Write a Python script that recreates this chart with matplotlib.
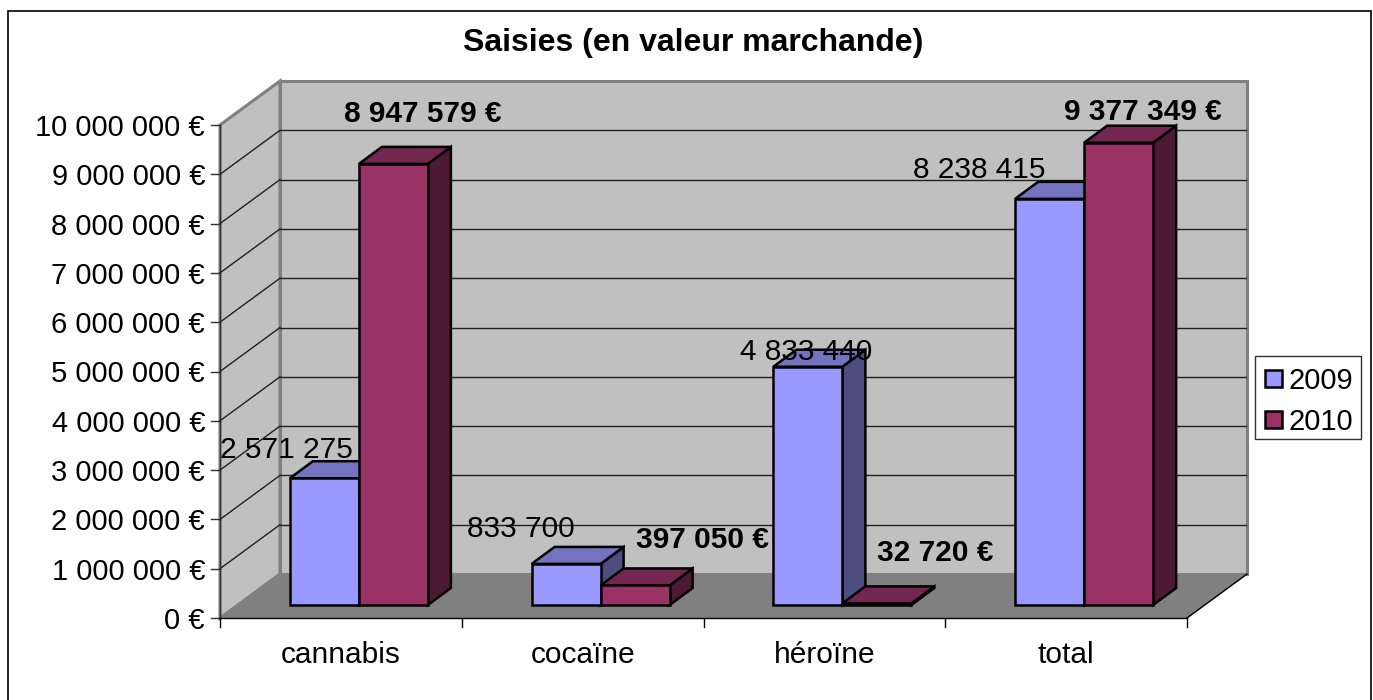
import matplotlib
matplotlib.use("Agg")
import matplotlib.pyplot as plt
from matplotlib.patches import Polygon, Rectangle

plt.rcParams['font.family'] = ['Liberation Sans', 'DejaVu Sans']

categories = ['cannabis', 'cocaïne', 'héroïne', 'total']
values_2009 = [2571275, 833700, 4833440, 8238415]
values_2010 = [8947579, 397050, 32720, 9377349]
labels_2009 = ['2 571 275', '833 700', '4 833 440', '8 238 415']
labels_2010 = ['8 947 579 €', '397 050 €', '32 720 €', '9 377 349 €']
y_ticks = [0, 1000000, 2000000, 3000000, 4000000, 5000000, 6000000, 7000000, 8000000, 9000000, 10000000]
title = 'Saisies (en valeur marchande)'

W, H = 1373, 700
# front plane of the 3d box, in pixels
LEFT, RIGHT, TOP, BOTTOM = 220, 1187, 125, 618
# depth of the box and of the bars, in pixels
WALL_DX, WALL_DY = 60, 44
BAR_DX, BAR_DY = 23, 17
SHIFT_DX, SHIFT_DY = 18, 13
BAR_W = 69 / 241.75
FS = 21.5

fig = plt.figure(figsize=(W / 100, H / 100), dpi=100)
ax = fig.add_axes([LEFT / W, 1 - BOTTOM / H, (RIGHT - LEFT) / W, (BOTTOM - TOP) / H])
ax.set_xlim(0, 4)
ax.set_ylim(0, 10000000)
ax.axis('off')

px_x = 4 / (RIGHT - LEFT)
px_y = 10000000 / (BOTTOM - TOP)


def poly(points, color, edge='black', lw=1.0, z=1):
    ax.add_patch(Polygon(points, closed=True, facecolor=color, edgecolor=edge, lw=lw,
                         zorder=z, clip_on=False, joinstyle='miter'))


wx = WALL_DX * px_x
wy = WALL_DY * px_y
ymax = y_ticks[-1]

# chart border, bottom edge falls off the picture
fig.add_artist(Rectangle((7.5 / W, -10 / H), 1363 / W, (689 + 10) / H, transform=fig.transFigure,
                         facecolor='white', edgecolor='black', lw=1.2, zorder=-5))

# walls and floor
poly([(wx, wy), (4 + wx, wy), (4 + wx, ymax + wy), (wx, ymax + wy)], '#c0c0c0', '#808080', 2.2, 1)
poly([(0, 0), (wx, wy), (wx, ymax + wy), (0, ymax)], '#c0c0c0', '#808080', 2.2, 1)
poly([(0, 0), (4, 0), (4 + wx, wy), (wx, wy)], '#808080', '#808080', 0.8, 1.5)

# gridlines on both walls
for t in y_ticks[1:-1]:
    ax.plot([wx, 4 + wx - 0.006], [t + wy, t + wy], color='#202020', lw=1.0, zorder=1.2, clip_on=False)
    ax.plot([0, wx], [t, t + wy], color='#202020', lw=1.0, zorder=1.2, clip_on=False)
ax.plot([4, 4 + wx], [0, wy], color='black', lw=1.0, zorder=1.6, clip_on=False)

# axes lines and ticks
ax.plot([0, 0], [0, ymax], color='#303030', lw=1.0, zorder=1.7, clip_on=False)
ax.plot([0, 4], [0, 0], color='black', lw=1.0, zorder=1.7, clip_on=False)
for t in y_ticks:
    ax.plot([-9 * px_x, 0], [t, t], color='#303030', lw=1.0, zorder=1.7, clip_on=False)
    ax.text(-15 * px_x, t, f'{t:,}'.replace(',', ' ') + ' €', ha='right', va='center_baseline',
            fontsize=21, color='black')
for i in range(5):
    ax.plot([i, i], [0, -9 * px_y], color='black', lw=1.0, zorder=1.7, clip_on=False)
for i, c in enumerate(categories):
    ax.text(i + 0.5, -34 * px_y, c, ha='center', va='center_baseline', fontsize=FS, color='black')


def bar(x, v, front, top, side, z):
    sy = SHIFT_DY * px_y
    dx = BAR_DX * px_x
    dy = BAR_DY * px_y
    x0 = x + SHIFT_DX * px_x
    x1 = x0 + BAR_W
    poly([(x1, sy), (x1 + dx, sy + dy), (x1 + dx, v + sy + dy), (x1, v + sy)], side, lw=1.8, z=z)
    poly([(x0, v + sy), (x1, v + sy), (x1 + dx, v + sy + dy), (x0 + dx, v + sy + dy)], top, lw=1.8, z=z)
    poly([(x0, sy), (x1, sy), (x1, v + sy), (x0, v + sy)], front, lw=1.8, z=z + 0.1)


for i in range(4):
    start = i + 0.5 - BAR_W
    bar(start, values_2009[i], '#9999ff', '#7373bf', '#4d4d80', 2 + i)
    bar(start + BAR_W, values_2010[i], '#993366', '#732650', '#4d1a33', 2.5 + i)

# data labels, pixel offsets from the category centre and the bar top
offs_2009 = [(-54, 31), (-62, 38), (-18, 18), (-87, 32)]
offs_2010 = [(82, 53), (120, 48), (111, 53), (77, 34)]
for i in range(4):
    sy = SHIFT_DY * px_y
    ax.text(i + 0.5 + offs_2009[i][0] * px_x, values_2009[i] + sy + offs_2009[i][1] * px_y, labels_2009[i],
            ha='center', va='center_baseline', fontsize=FS, zorder=10, clip_on=False)
    ax.text(i + 0.5 + offs_2010[i][0] * px_x, values_2010[i] + sy + offs_2010[i][1] * px_y, labels_2010[i],
            ha='center', va='center_baseline', fontsize=FS, fontweight='bold', zorder=10, clip_on=False)

fig.text(693 / W, 1 - 40 / H, title, ha='center', va='center_baseline', fontsize=23, fontweight='bold')

# legend
fig.add_artist(Rectangle((1255 / W, 1 - 439 / H), 106 / W, 83 / H, transform=fig.transFigure,
                         facecolor='white', edgecolor='#303030', lw=1.0, zorder=5))
for name, color, yc in [('2009', '#9999ff', 378), ('2010', '#993366', 419)]:
    fig.add_artist(Rectangle((1264.5 / W, 1 - (yc + 8.5) / H), 17 / W, 17 / H, transform=fig.transFigure,
                             facecolor=color, edgecolor='black', lw=1.8, zorder=6))
    fig.text(1289 / W, 1 - yc / H, name, ha='left', va='center_baseline', fontsize=21, zorder=7)

fig.savefig('out.png', dpi=100)
